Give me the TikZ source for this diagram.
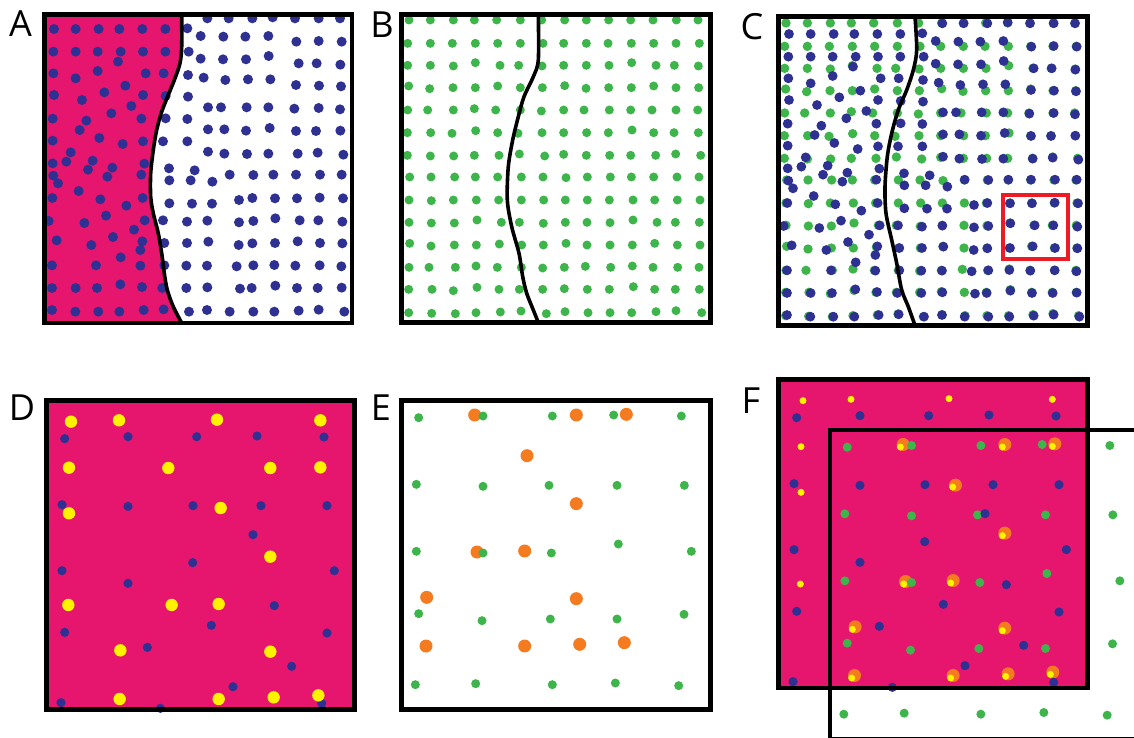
\documentclass[tikz,border=0pt]{standalone}
\usepackage{fontspec}
\setmainfont{Open Sans}
\definecolor{cpink}{HTML}{E6166E}
\definecolor{cblue}{HTML}{2E3192}
\definecolor{cgreen}{HTML}{3DB54A}
\definecolor{cyellow}{HTML}{FFF200}
\definecolor{corange}{HTML}{F47B20}
\definecolor{cred}{HTML}{ED1C24}
\def\Ablue{162/87,227/87,296/87,358/87,427/87,496/87,160/155,227/155,293/155,362/155,429/155,496/155,354/185,
160/220,227/235,293/213,437/220,491/220,376/257,162/285,246/300,313/277,429/285,497/288,394/318,334/340,
158/356,259/362,424/356,239/390,298/414,368/432,158/422,429/424,212/457,199/485,278/482,158/490,264/509,337/503,433/491,
160/527,322/530,424/524,174/550,236/573,157/594,301/598,428/594,379/617,318/647,146/663,253/669,434/661,402/689,
170/721,339/711,274/735,427/724,421/750,362/772,156/796,288/796,421/797,156/864,227/864,291/864,361/853,426/861,487/864,
156/930,226/935,295/935,358/935,431/930,491/928,
562/85,622/55,686/55,757/55,818/52,885/55,956/55,1020/55,
602/108,670/110,736/110,805/108,889/125,956/123,1025/125,
566/155,602/176,669/178,738/178,806/168,896/190,950/190,1021/194,
564/225,611/233,676/240,744/238,811/238,888/255,957/257,1023/259,
564/290,624/322,663/322,740/322,805/322,883/326,956/324,1020/328,
497/355,562/357,624/388,673/388,738/392,809/384,888/393,948/393,1021/392,
489/424,562/424,624/455,673/461,741/462,805/461,893/461,953/458,1030/464,
507/505,584/511,508/541,572/541,637/545,689/524,760/525,820/524,888/524,960/524,1025/524,
508/610,576/611,636/611,717/600,757/594,825/595,891/595,959/593,1029/595,
489/661,561/665,622/662,717/667,760/663,826/655,899/661,955/661,1027/665,
493/729,561/729,625/725,716/735,757/730,825/729,893/724,960/729,1027/730,
493/796,559/797,621/797,710/799,760/796,823/795,886/797,959/796,1024/799,
559/864,622/862,720/866,755/864,826/857,891/864,953/864,1025/863,
567/935,621/930,689/935,760/935,823/935,896/932,956/929,1033/935}
\def\Bgreen{117/60,181/60,250/60,313/60,380/60,451/60,515/60,584/60,649/60,716/60,782/60,849/60,919/60,984/60,
113/130,181/130,247/130,316/130,383/130,451/130,519/130,581/130,649/130,714/130,784/130,851/130,918/130,988/130,
113/196,181/196,250/198,316/188,390/196,446/196,516/198,581/196,649/196,717/196,785/188,858/196,913/196,985/198,
116/258,179/266,249/263,316/263,383/258,451/263,517/263,584/257,648/265,716/263,784/263,851/258,918/263,986/263,
113/330,173/330,250/330,313/326,377/330,451/330,514/333,581/330,642/330,718/330,782/330,846/330,918/330,983/330,
112/398,182/398,246/400,317/392,383/398,444/400,516/398,581/398,650/398,715/398,786/390,851/398,912/398,985/398,
112/466,181/468,251/468,313/466,387/466,448/462,524/468,581/463,649/466,719/466,782/466,857/466,917/462,992/466,
119/531,183/531,254/531,316/531,383/531,454/531,519/531,588/533,652/531,721/531,784/531,851/531,921/531,987/531,
117/600,184/602,250/600,319/600,386/600,454/600,521/600,586/600,652/600,718/600,789/600,854/600,922/600,990/600,
117/667,184/669,253/669,321/660,394/667,448/667,520/670,586/667,651/667,720/668,789/660,861/667,916/667,988/667,
119/730,183/738,253/735,319/735,388/732,455/735,520/735,588/730,651/735,720/735,787/735,854/730,922/735,990/735,
117/802,177/802,256/802,318/798,382/802,454/802,518/804,583/802,646/799,722/802,787/798,849/802,923/802,987/802,
116/868,186/868,250/872,321/862,387/868,448/868,518/868,583/866,652/868,718/868,790/860,854/868,916/868,988/868,
116/938,185/940,256/941,318/938,391/936,453/933,529/941,585/935,654/938,720/938,785/938,858/935,918/932,995/938}
\def\Dyellow{213/125,357/121,651/119,961/121,207/263,505/264,811/264,961/262,207/400,662/384,811/530,
205/675,515/675,656/672,361/811,811/815,359/957,656/957,821/952,955/946}
\def\Dblue{194/176,384/170,590/170,771/168,972/171,186/374,384/379,579/377,783/377,981/377,759/464,
578/548,186/572,1003/572,384/610,823/677,634/736,194/757,981/759,442/802,875/859,699/920,183/968,481/985,965/970}
\def\Egreen{146/113,339/108,547/108,731/105,934/108,139/313,339/319,537/316,741/316,943/316,
139/514,339/519,544/519,745/492,964/514,146/701,336/722,541/717,741/717,942/703,
136/914,317/911,547/914,736/909,926/917}
\def\Eorange{314/105,619/105,769/103,471/227,619/371,321/516,464/513,170/652,619/656,168/798,464/798,629/793,763/788}
\newcommand\putdots[3]{\foreach \x/\y in #1 {\fill[#2] ({\x/3},{\y/3}) circle (#3);}}
\begin{document}
\begin{tikzpicture}[x=1pt,y=-1pt,
  frame/.style={draw=black,line width=4.5pt},
  bound/.style={draw=black,line width=3.6pt,line join=round},
  lab/.style={inner sep=0pt,font=\fontsize{36}{36}\selectfont}]
\useasboundingbox (0,0) rectangle (1134,738);
\clip (0,0) rectangle (1134,738);
% ---------- A
\fill[cpink] (44.5,14.5) -- plot[smooth,tension=0.5] coordinates {(181.7,14.5) (181.7,46.7) (180,63.3) (175,78.3) (168.3,95) (161.7,111.7) (156.7,130) (153.3,150) (150.7,173.3) (150.7,196.7) (153.3,213.3) (158.3,233.3) (161.7,253.3) (164.3,273.3) (167.3,290) (173.3,306.7) (181.7,323)} -- (44.5,323) -- cycle;
\putdots{\Ablue}{cblue}{5pt}
\draw[bound] plot[smooth,tension=0.5] coordinates {(181.7,14.5) (181.7,46.7) (180,63.3) (175,78.3) (168.3,95) (161.7,111.7) (156.7,130) (153.3,150) (150.7,173.3) (150.7,196.7) (153.3,213.3) (158.3,233.3) (161.7,253.3) (164.3,273.3) (167.3,290) (173.3,306.7) (181.7,323)};
\draw[frame] (44.5,14.5) rectangle (352,323);
\node[lab] (labA) at (20.5,23.5) {A};
% ---------- B
\begin{scope}[shift={(370,0)}]
\putdots{\Bgreen}{cgreen}{4.5pt}
\end{scope}
\draw[bound] plot[smooth,tension=0.5] coordinates {(538.3,14.5) (538.3,60) (533.3,76.7) (524,96.7) (518.3,116.7) (512.7,140) (508.3,166.7) (507.3,200) (511.7,226.7) (519,253.3) (522.7,276.7) (526.7,293.3) (533.3,310) (538.3,322.5)};
\draw[frame] (401.5,14.5) rectangle (710.5,322.5);
\node[lab] (labB) at (382,25) {B};
% ---------- C
\begin{scope}[shift={(747,3)}]
\putdots{\Bgreen}{cgreen}{4.7pt}
\end{scope}
\begin{scope}[shift={(735,5)}]
\putdots{\Ablue}{cblue}{4.9pt}
\end{scope}
\draw[bound] plot[smooth,tension=0.5] coordinates {(915,16.5) (916.7,50) (913.3,70) (906.7,90) (898.3,110) (891.7,133.3) (887.3,156.7) (885,186.7) (886,213.3) (891.7,240) (896.7,263.3) (901.7,290) (908.3,306.7) (915,325.5)};
\draw[cred,line width=4pt] (1002.5,194.5) rectangle (1067.5,258.5);
\draw[frame] (778.5,16.5) rectangle (1087.5,325.5);
\node[lab] (labC) at (752,27) {C};
% ---------- D
\fill[cpink] (46.5,400.5) rectangle (354.5,709.5);
\begin{scope}[shift={(0,380)}]
\putdots{\Dblue}{cblue}{4.6pt}
\putdots{\Dyellow}{cyellow}{6.2pt}
\end{scope}
\draw[frame] (46.5,400.5) rectangle (354.5,709.5);
\node[lab] (labD) at (22,408) {D};
% ---------- E
\begin{scope}[shift={(370,380)}]
\putdots{\Eorange}{corange}{6.5pt}
\putdots{\Egreen}{cgreen}{4.5pt}
\end{scope}
\draw[frame] (401.5,400.5) rectangle (710.5,709.5);
\node[lab] (labE) at (381,408) {E};
% ---------- F
\fill[cpink] (778.5,379.5) rectangle (1087.5,688);
\begin{scope}[shift={(798.5,409.5)}]
\putdots{\Eorange}{corange}{6.5pt}
\putdots{\Egreen}{cgreen}{4.5pt}
\end{scope}
\begin{scope}[shift={(732,359)}]
\putdots{\Dblue}{cblue}{4.6pt}
\putdots{\Dyellow}{cyellow}{3.5pt}
\end{scope}
\draw[frame] (830,430) rectangle (1139,739);
\draw[frame] (778.5,379.5) rectangle (1087.5,688);
\node[lab] (labF) at (751,401) {F};
\end{tikzpicture}
\end{document}
